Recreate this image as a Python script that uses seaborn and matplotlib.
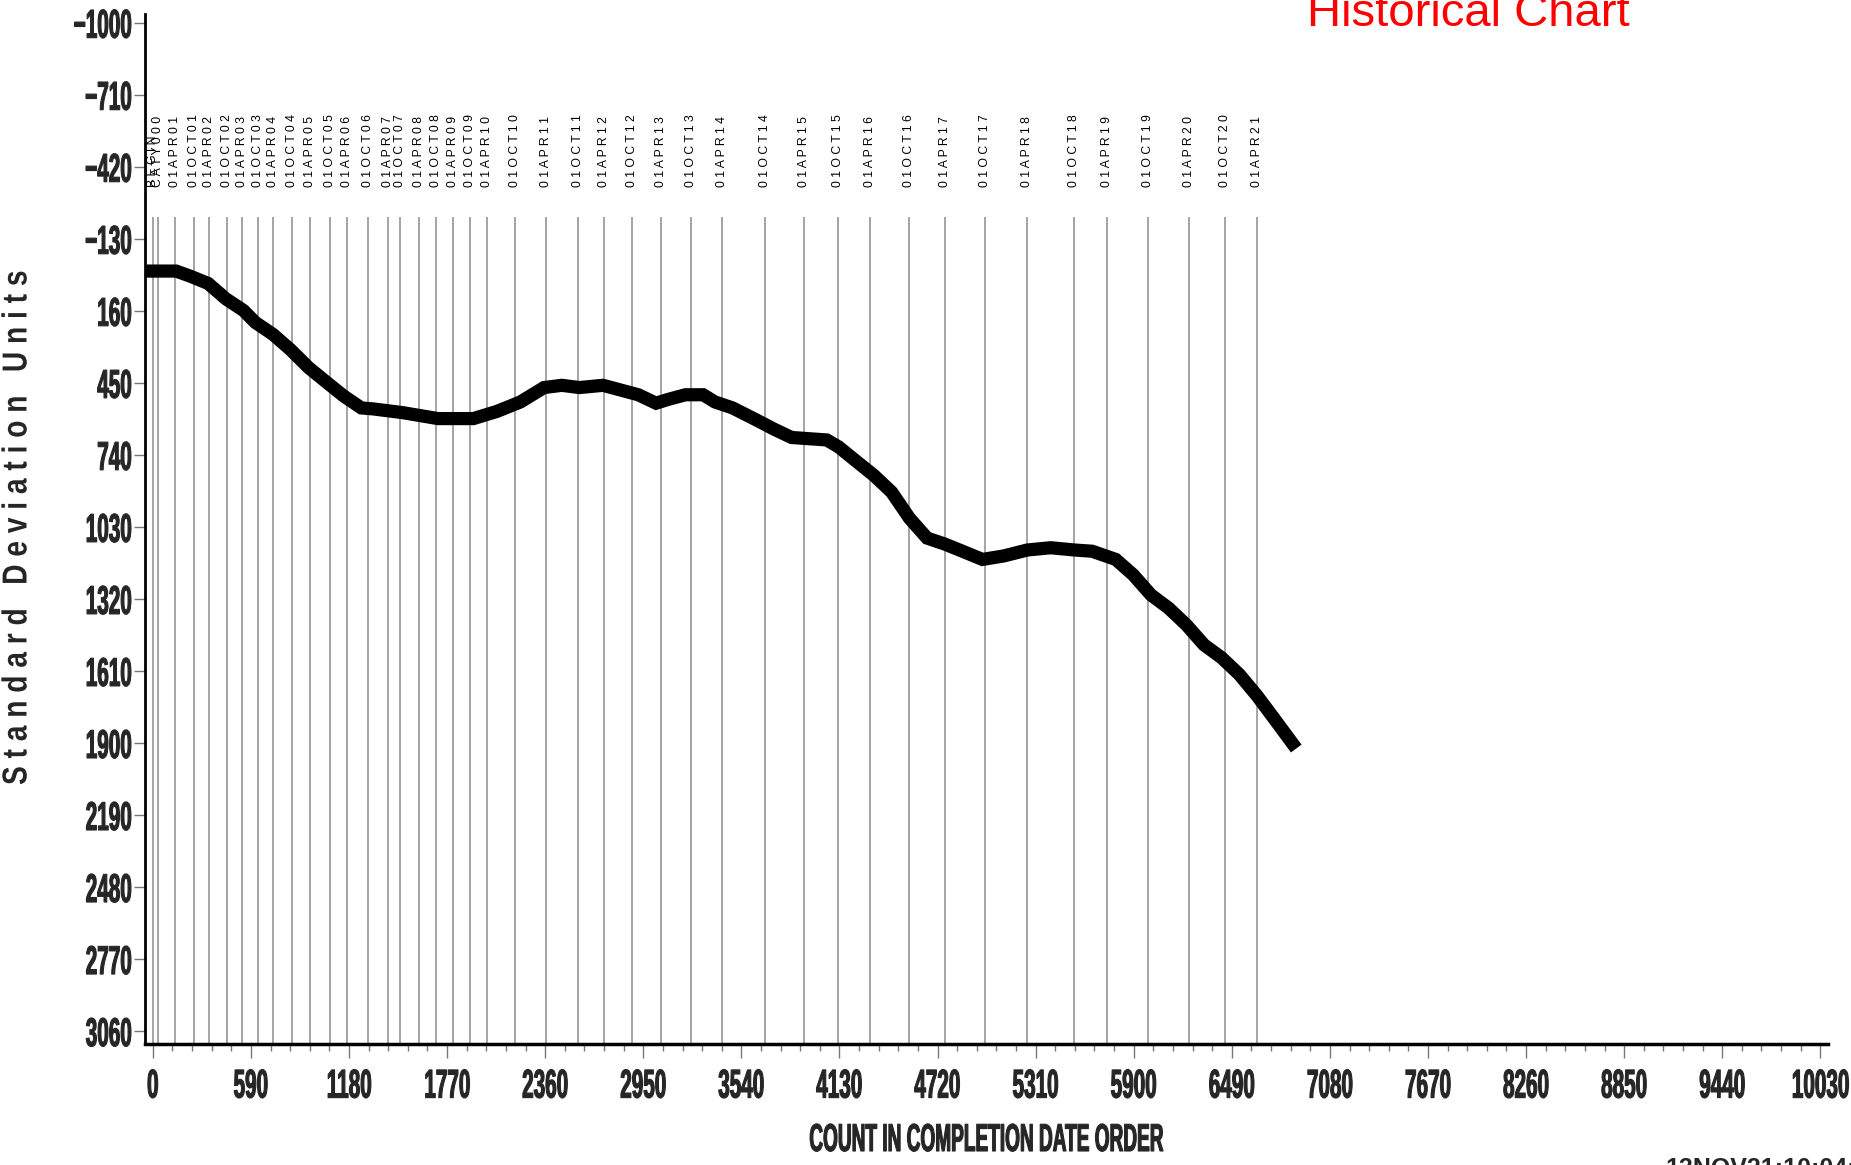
import matplotlib
matplotlib.use("Agg")
import matplotlib.pyplot as plt
from matplotlib.patheffects import AbstractPathEffect
from matplotlib.transforms import Affine2D
from matplotlib.ticker import MultipleLocator
import seaborn as sns
import pandas as pd

# --- data ---
count = [0, 140, 227, 333, 440, 546, 617, 723, 829, 936, 1042, 1148, 1254, 1325, 1503,
         1715, 1928, 2070, 2211, 2353, 2460, 2566, 2708, 2814, 2920, 3027, 3098, 3204,
         3310, 3381, 3487, 3629, 3735, 3842, 4054, 4125, 4232, 4338, 4444, 4551, 4657,
         4763, 4870, 4990, 5118, 5260, 5401, 5543, 5650, 5792, 5897, 6004, 6110, 6216,
         6323, 6429, 6535, 6642, 6748, 6854]
sd_units = [0, 0, 21, 50, 112, 159, 207, 255, 317, 388, 446, 503, 551, 555, 570,
            594, 594, 565, 527, 469, 460, 469, 460, 479, 498, 532, 517, 498,
            498, 527, 551, 599, 636, 670, 680, 708, 766, 823, 890, 995, 1075,
            1099, 1128, 1161, 1147, 1123, 1114, 1123, 1128, 1161, 1223, 1304, 1357, 1424,
            1505, 1557, 1624, 1710, 1805, 1901]

# date marker lines and their labels
ref_pos = [0, 31, 133, 250, 338, 447, 537, 632, 722, 836, 945, 1064, 1168, 1294, 1417,
           1485, 1599, 1705, 1804, 1908, 2012, 2177, 2365, 2556, 2713, 2885, 3057, 3235,
           3426, 3681, 3915, 4120, 4316, 4547, 4767, 5006, 5256, 5539, 5741, 5986, 6231,
           6449, 6644]
ref_labels = ["BEGIN", "CATY000"]
for yr in range(1, 22):
    ref_labels.append("01APR%02d" % yr)
    if yr < 21:
        ref_labels.append("01OCT%02d" % yr)

x_ticks = [0, 590, 1180, 1770, 2360, 2950, 3540, 4130, 4720, 5310, 5900, 6490, 7080,
           7670, 8260, 8850, 9440, 10030]
y_ticks = [-1000, -710, -420, -130, 160, 450, 740, 1030, 1320, 1610, 1900, 2190, 2480,
           2770, 3060]

df = pd.DataFrame({"count": count, "sd": sd_units})


class Condense(AbstractPathEffect):
    """squeeze glyphs along the text direction (the original uses a very narrow bold font)"""
    def __init__(self, sx, anchor="center", stroke=0.0):
        super().__init__()
        self.sx = sx
        self.anchor = anchor
        self.stroke = stroke

    def draw_path(self, renderer, gc, tpath, affine, rgbFace=None):
        ext = tpath.get_extents()
        if self.anchor == "left":
            cx = ext.x0
        elif self.anchor == "right":
            cx = ext.x1
        else:
            cx = (ext.x0 + ext.x1) / 2
        sq = Affine2D().translate(-cx, 0).scale(self.sx, 1).translate(cx, 0)
        gc0 = renderer.new_gc()
        gc0.copy_properties(gc)
        gc0.set_linewidth(self.stroke)
        renderer.draw_path(gc0, tpath, sq + affine, rgbFace)
        gc0.restore()


sns.set_theme(style="white")
plt.rcParams["font.family"] = ["Liberation Sans", "DejaVu Sans"]

W, H = 1851, 1165
fig = plt.figure(figsize=(W / 100, H / 100), dpi=100)
ax = fig.add_axes([145 / W, 1 - 1044 / H, (1828 - 145) / W, (1044 - 14) / H])

# date marker lines
ax.vlines(ref_pos, -217, 3112, color="#8c8c8c", linewidth=1.1, zorder=1)
for xp, lab in zip(ref_pos, ref_labels):
    ax.text(xp, -338, " ".join(lab), rotation=90, ha="center", va="bottom",
            fontsize=8.8, color="black", clip_on=False)

sns.lineplot(data=df, x="count", y="sd", ax=ax, color="black", linewidth=9.5,
             solid_capstyle="projecting", solid_joinstyle="miter", zorder=3)

ax.set_xlim(-47, 10076)
ax.set_ylim(3112, -1035)

ax.set_xticks(x_ticks)
ax.set_xticklabels([str(v) for v in x_ticks])
ax.xaxis.set_minor_locator(MultipleLocator(118))
ax.set_yticks(y_ticks)
ax.set_yticklabels([str(v).replace("-", "\u2212") for v in y_ticks])

ax.tick_params(axis="x", which="major", bottom=True, length=10, width=1, color="#777777", pad=7)
ax.tick_params(axis="x", which="minor", bottom=True, length=5, width=1, color="#777777")
ax.tick_params(axis="y", which="major", left=True, length=8, width=1, color="#777777", pad=1)

for side in ["top", "right"]:
    ax.spines[side].set_visible(False)
ax.spines["left"].set_linewidth(2)
ax.spines["bottom"].set_linewidth(2.5)
ax.spines["left"].set_color("black")
ax.spines["bottom"].set_color("black")

ax.set_xlabel("")
ax.set_ylabel("")
xlab = fig.text(986 / W, 1 - 1141 / H, "COUNT IN COMPLETION DATE ORDER", fontsize=28,
                fontweight="bold", ha="center", va="center")
ylab = fig.text(17 / W, 1 - 528 / H, "   ".join(" ".join(w) for w in ["Standard", "Deviation", "Units"]),
                rotation=90, ha="center", va="center", fontsize=25, fontweight="bold")

fig.text(1307 / W, 1 - 26 / H, "Historical Chart", color="red", fontsize=34,
         ha="left", va="baseline")
fig.text(1665 / W, 1 - 1157 / H, "13NOV21:10:04:26", fontsize=18, fontweight="bold",
         ha="left", va="top")

xl = ax.get_xticklabels()
yl = ax.get_yticklabels()
for lab in xl + yl:
    lab.set_fontweight("bold")
    lab.set_fontsize(29)

# squeeze factors from measured widths
fig.canvas.draw()
r = fig.canvas.get_renderer()
digit_w = xl[4].get_window_extent(r).width  # "2360"
sx_tick = 46 / digit_w
for lab in xl:
    lab.set_path_effects([Condense(sx_tick, "center", 0.8)])
for lab in yl:
    lab.set_path_effects([Condense(sx_tick, "right", 0.8)])
xlab.set_path_effects([Condense(354 / xlab.get_window_extent(r).width, "center", 0.8)])
ylab.set_path_effects([Condense(514 / ylab.get_window_extent(r).height, "center")])

fig.savefig("out.png", dpi=100)
